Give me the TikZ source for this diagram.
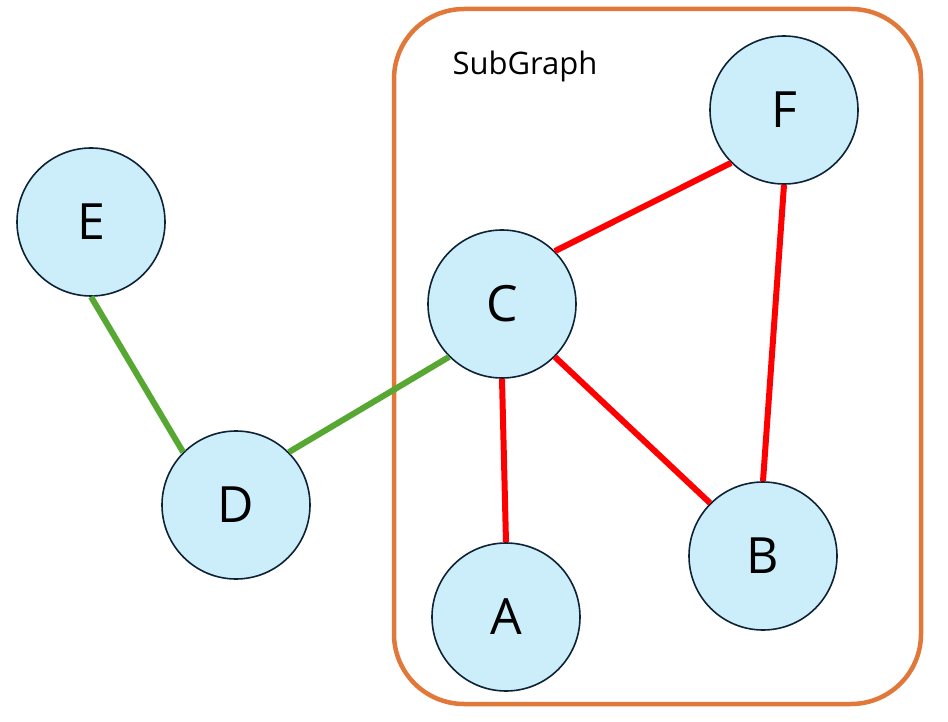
\documentclass[tikz,border=0pt]{standalone}
\usepackage{fontspec}
\setmainfont{Open Sans}
\definecolor{nodefill}{HTML}{CCEEFB}
\definecolor{nodeline}{HTML}{0D2235}
\definecolor{grouporange}{HTML}{E2773A}
\definecolor{edgered}{HTML}{FF0000}
\definecolor{edgegreen}{HTML}{56A832}
\begin{document}
\begin{tikzpicture}[x=1pt,y=-1pt,
  vertex/.style={circle, draw=nodeline, line width=1.6pt, fill=nodefill,
    minimum size=148pt, inner sep=0pt, font=\fontsize{50}{54}\selectfont},
  inlink/.style={draw=edgered, line width=6pt},
  outlink/.style={draw=edgegreen, line width=6pt},
  group/.style={draw=grouporange, line width=4.5pt, rounded corners=70pt}]
\useasboundingbox (0,0) rectangle (948,722);
% group frame and its caption
\draw[group] (394,9) rectangle (921,704);
\node[font=\fontsize{31}{36}\selectfont] (cap) at (525,66) {SubGraph};
% vertices
\node[vertex] (e) at (91,222) {E};
\node[vertex] (d) at (236,505) {D};
\node[vertex] (c) at (502,304) {C};
\node[vertex] (f) at (784,110) {F};
\node[vertex] (b) at (763,556) {B};
\node[vertex] (a) at (506,617) {A};
% edges between anchor points on the circles
\path[outlink] (e.south) -- (d.north west);
\path[outlink] (d.north east) -- (c.south west);
\path[inlink] (c.north east) -- (f.south west);
\path[inlink] (f.south) -- (b.north);
\path[inlink] (c.south) -- (a.north);
\path[inlink] (c.south east) -- (b.north west);
\end{tikzpicture}
\end{document}
